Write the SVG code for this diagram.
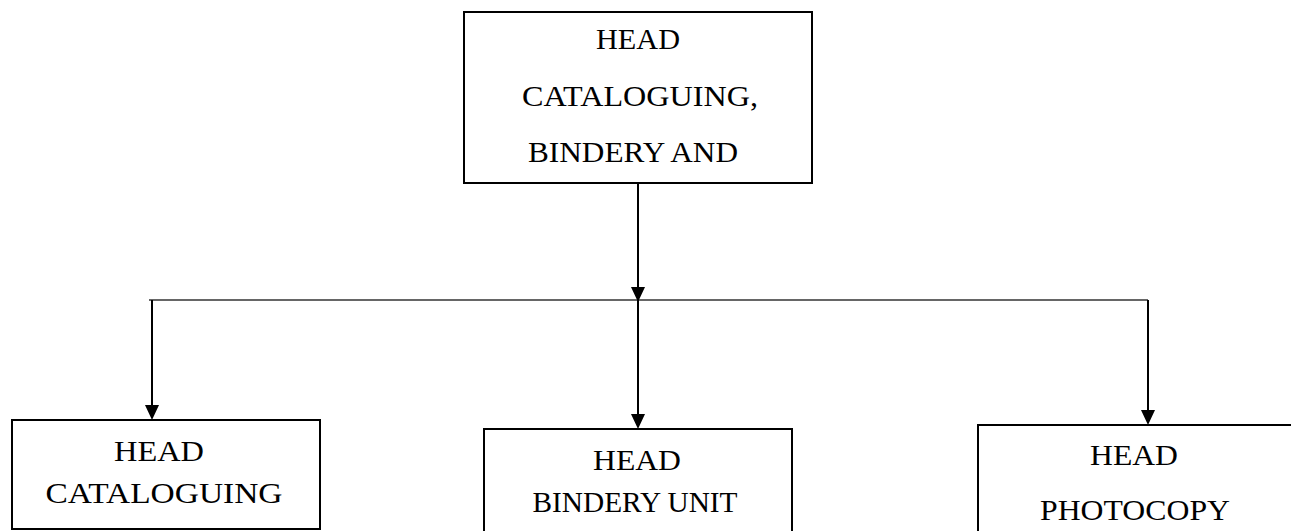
<svg xmlns="http://www.w3.org/2000/svg" width="1291" height="531" viewBox="0 0 1291 531">
  <style>
    .box { fill: #fff; stroke: #000; stroke-width: 2; }
    .lbl { font-family: "Liberation Serif", "Times New Roman", serif; font-size: 29px; fill: #000; text-anchor: middle; }
    .h { stroke: #333; stroke-width: 1.3; fill: none; }
    .v { stroke: #000; stroke-width: 2; fill: none; }
    .ah { fill: #000; }
  </style>
  <rect width="1291" height="531" fill="#fff"/>
  <g id="connectors">
    <line class="h" x1="149" y1="300" x2="1148" y2="300"/>
    <path class="v" d="M638,183 L638,300"/>
    <path class="ah" d="M631,287 L645,287 L638,302 Z"/>
    <path class="v" d="M152,300 L152,406"/>
    <path class="ah" d="M145,405 L159,405 L152,420 Z"/>
    <path class="v" d="M638,300 L638,415"/>
    <path class="ah" d="M631,414 L645,414 L638,429 Z"/>
    <path class="v" d="M1148,300 L1148,411"/>
    <path class="ah" d="M1141,410 L1155,410 L1148,425 Z"/>
  </g>
  <g id="node-top">
    <rect class="box" x="464" y="12" width="348" height="171"/>
    <text class="lbl" x="638" y="49" textLength="84" lengthAdjust="spacingAndGlyphs">HEAD</text>
    <text class="lbl" x="640" y="106" textLength="236" lengthAdjust="spacingAndGlyphs">CATALOGUING,</text>
    <text class="lbl" x="633" y="162" textLength="210" lengthAdjust="spacingAndGlyphs">BINDERY AND</text>
  </g>
  <g id="node-cataloguing">
    <rect class="box" x="12" y="420" width="308" height="109"/>
    <text class="lbl" x="159" y="461" textLength="90" lengthAdjust="spacingAndGlyphs">HEAD</text>
    <text class="lbl" x="164" y="503" textLength="237" lengthAdjust="spacingAndGlyphs">CATALOGUING</text>
  </g>
  <g id="node-bindery">
    <rect class="box" x="484" y="429" width="308" height="110"/>
    <text class="lbl" x="637" y="470" textLength="88" lengthAdjust="spacingAndGlyphs">HEAD</text>
    <text class="lbl" x="635" y="512" textLength="205" lengthAdjust="spacingAndGlyphs">BINDERY UNIT</text>
  </g>
  <g id="node-photocopy">
    <rect class="box" x="978" y="425" width="320" height="120"/>
    <text class="lbl" x="1134" y="465" textLength="88" lengthAdjust="spacingAndGlyphs">HEAD</text>
    <text class="lbl" x="1135" y="520" textLength="190" lengthAdjust="spacingAndGlyphs">PHOTOCOPY</text>
  </g>
</svg>
